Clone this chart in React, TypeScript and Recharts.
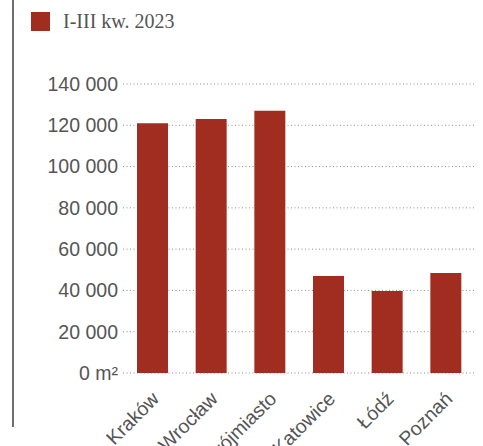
import React from 'react';
import { BarChart, Bar, XAxis, YAxis, CartesianGrid } from 'recharts';

const categories = ['Kraków', 'Wrocław', 'Trójmiasto', 'Katowice', 'Łódź', 'Poznań'];
const officeArea = [121000, 123000, 127000, 47000, 39700, 48400];
const yTicks = [0, 20000, 40000, 60000, 80000, 100000, 120000, 140000];
const seriesName = 'I-III kw. 2023';

const BAR_COLOR = '#a02d1f';
const TEXT_COLOR = '#555';
const SANS = '"Liberation Sans", Arial, sans-serif';

const data = categories.map((name, i) => ({ name, value: officeArea[i] }));

// 140000 -> "140 000", 0 -> "0 m²"
const formatY = (v: number) =>
  v === 0 ? '0 m²' : String(v).replace(/\B(?=(\d{3})+(?!\d))/g, ' ');

function CityTick(props: any) {
  const { x, y, payload } = props;
  const ax = x + 8;
  const ay = y + 19;
  return (
    <text
      x={ax}
      y={ay}
      transform={`rotate(-45 ${ax} ${ay})`}
      textAnchor="end"
      fill={TEXT_COLOR}
      fontSize={19.5}
      fontFamily={SANS}
    >
      {payload.value}
    </text>
  );
}

export default function App() {
  return (
    <div style={{ position: 'absolute', left: 0, top: 0, width: 483, height: 446, background: '#fff' }}>
      {/* grey rule on the left */}
      <div style={{ position: 'absolute', left: 12, top: 0, width: 2, height: 427, background: '#6e6e6e' }} />

      {/* legend */}
      <div style={{ position: 'absolute', left: 31, top: 12, display: 'flex', alignItems: 'center' }}>
        <div style={{ width: 19, height: 19, background: BAR_COLOR }} />
        <span
          style={{
            marginLeft: 13,
            fontFamily: '"Liberation Serif", serif',
            fontSize: 20,
            color: TEXT_COLOR,
            lineHeight: '19px',
          }}
        >
          {seriesName}
        </span>
      </div>

      <BarChart
        width={483}
        height={446}
        data={data}
        margin={{ top: 84, right: 8, left: 0, bottom: 0 }}
        style={{ position: 'absolute', left: 0, top: 0 }}
      >
        <CartesianGrid vertical={false} stroke="#8f8f8f" strokeDasharray="1 2.5" />
        <XAxis
          dataKey="name"
          height={73}
          axisLine={false}
          tickLine={false}
          interval={0}
          tick={<CityTick />}
        />
        <YAxis
          width={123}
          domain={[0, 140000]}
          ticks={yTicks}
          axisLine={false}
          tickLine={false}
          tickSize={0}
          tickMargin={5}
          tickFormatter={formatY}
          tick={{ fill: TEXT_COLOR, fontSize: 19.5, fontFamily: SANS }}
        />
        <Bar dataKey="value" name={seriesName} fill={BAR_COLOR} barSize={31} isAnimationActive={false} />
      </BarChart>
    </div>
  );
}
